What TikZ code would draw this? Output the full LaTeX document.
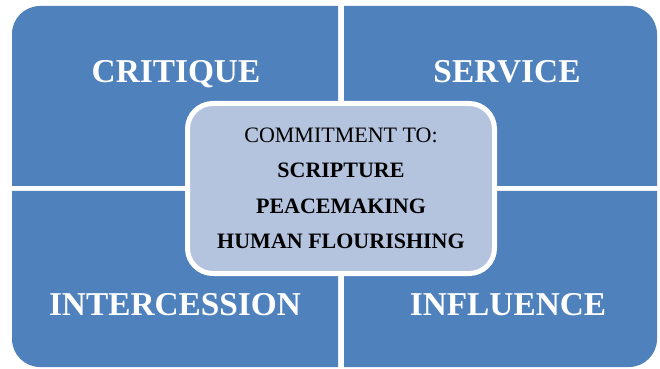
\documentclass[tikz,border=0pt]{standalone}
\usepackage{fontspec}
\setmainfont{Liberation Serif}
\definecolor{quadblue}{HTML}{4F81BD}
\definecolor{centerfill}{HTML}{B4C3DE}
\begin{document}
\begin{tikzpicture}[x=0.75pt,y=0.75pt]
\tikzstyle{every node}+=[inner sep=0pt]
\tikzstyle{quad}=[fill=quadblue]
\tikzstyle{quadlabel}=[anchor=base,text=white,font=\fontsize{25}{30}\selectfont\bfseries]
\tikzstyle{centerbox}=[draw=white,line width=3.75pt,fill=centerfill,rounded corners=19pt,minimum width=230.25pt,minimum height=127.5pt,align=center,font=\fontsize{16.5}{26.6}\selectfont]
\useasboundingbox (0,0) rectangle (660,368);
\fill [quad] (338,182) -- (338,362) -- (40,362) arc[start angle=90,end angle=180,radius=28] -- (12,182) -- cycle;
\fill [quad] (344,182) -- (344,362) -- (629,362) arc[start angle=90,end angle=0,radius=28] -- (657,182) -- cycle;
\fill [quad] (338,177) -- (12,177) -- (12,29) arc[start angle=180,end angle=270,radius=28] -- (338,1) -- cycle;
\fill [quad] (344,177) -- (657,177) -- (657,29) arc[start angle=0,end angle=-90,radius=28] -- (344,1) -- cycle;
\node [quadlabel] (critique) at (176,285) {CRITIQUE};
\node [quadlabel] (service) at (507,285) {SERVICE};
\node [quadlabel] (intercession) at (175,53) {INTERCESSION};
\node [quadlabel] (influence) at (508,53) {INFLUENCE};
\node [centerbox] (commitment) at (341,179.5) {COMMITMENT TO:\\\textbf{SCRIPTURE}\\\textbf{PEACEMAKING}\\\textbf{HUMAN FLOURISHING}};
\end{tikzpicture}
\end{document}
